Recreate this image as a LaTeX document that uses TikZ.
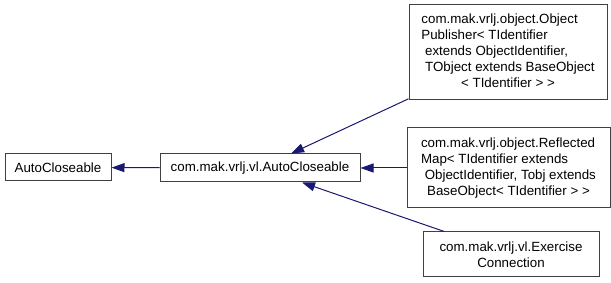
\documentclass[tikz,border=0pt]{standalone}
\usepackage{fontspec}
\setmainfont{Liberation Sans}
\usetikzlibrary{arrows.meta}
\definecolor{edgeblue}{HTML}{191970}
\definecolor{boxline}{HTML}{404040}
\tikzset{
  cls/.style={draw=boxline, line width=1pt, fill=white, inner sep=0pt,
    font=\fontsize{13.33}{16}\selectfont, align=center},
  inherit/.style={draw=edgeblue, line width=1pt,
    -{Triangle[length=13pt,width=9pt]}, shorten >=0pt}
}
\begin{document}
\begin{tikzpicture}[x=1pt,y=-1pt]
\useasboundingbox (0,0) rectangle (611,283);
\node[cls, minimum width=106pt, minimum height=27pt] (A) at (58,167.5) {AutoCloseable};
\node[cls, minimum width=200pt, minimum height=28pt] (B) at (260,168) {com.mak.vrlj.vl.AutoCloseable};
\node[cls, minimum width=198pt, minimum height=95pt] (C) at (508,52.5)
  {\begin{tabular}{@{}l@{}}com.mak.vrlj.object.Object\\
   Publisher< TIdentifier\\
   \ extends ObjectIdentifier,\\
   \ TObject extends BaseObject\\
   \multicolumn{1}{@{}c@{}}{< TIdentifier > >}\end{tabular}};
\node[cls, minimum width=203pt, minimum height=80pt] (D) at (508.5,168)
  {\begin{tabular}{@{}l@{}}com.mak.vrlj.object.Reflected\\
   Map< TIdentifier extends\\
   \ ObjectIdentifier, Tobj extends\\
   \multicolumn{1}{@{}c@{}}{BaseObject< TIdentifier > >}\end{tabular}};
\node[cls, minimum width=176pt, minimum height=45pt] (E) at (511,254.5)
  {com.mak.vrlj.vl.Exercise\\Connection};
\draw[inherit] (B) -- (A);
\draw[inherit] (C) -- (B);
\draw[inherit] (D) -- (B);
\draw[inherit] (E) -- (B);
\end{tikzpicture}
\end{document}
